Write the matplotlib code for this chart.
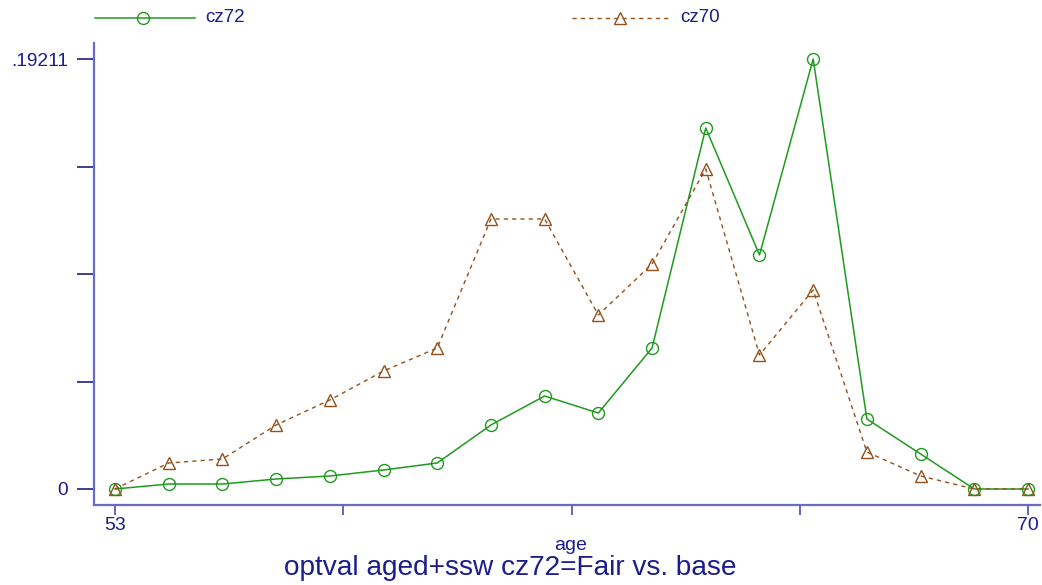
import matplotlib
matplotlib.use("Agg")
import matplotlib.pyplot as plt
from matplotlib.lines import Line2D

plt.rcParams['font.family'] = ['Liberation Sans', 'DejaVu Sans']

age = list(range(53, 71))
cz72 = [0.0, 0.00223, 0.00223, 0.00447, 0.00581, 0.00849, 0.01162, 0.02859, 0.04155,
        0.03395, 0.0630, 0.16128, 0.10454, 0.19211, 0.03127, 0.01564, 0.0, 0.0]
cz70 = [0.0, 0.01162, 0.0134, 0.0286, 0.03976, 0.05272, 0.0630, 0.12063, 0.12063,
        0.07774, 0.10052, 0.14297, 0.05987, 0.08891, 0.01653, 0.00581, 0.0, 0.0]
xticks = [53, 57.25, 61.5, 65.75, 70]
xticklabels = ['53', '', '', '', '70']
yticks = [0, 0.048, 0.096, 0.144, 0.19211]
yticklabels = ['0', '', '', '', '.19211']
title = 'optval aged+ssw cz72=Fair vs. base'

navy = '#1c1c8c'
spine_c = '#6a6ac8'
green = '#1f9a1f'
brown = '#94501a'

W, H = 1042, 585
fig = plt.figure(figsize=(W / 100, H / 100), dpi=100)
ax = fig.add_axes([94 / W, 80 / H, (1040 - 94) / W, (505 - 43) / H])

ax.plot(age, cz72, color=green, lw=1.1, marker='o', ms=8.6, mfc='none', mec=green, mew=1.0)
ax.plot(age, cz70, color=brown, lw=1.0, ls=(0, (3, 3)), marker='^', ms=9, mfc='none', mec=brown, mew=1.0)

ax.set_xlim(52.609, 70.2234)
ax.set_ylim(-0.00715, 0.19926)
ax.set_xticks(xticks)
ax.set_xticklabels(xticklabels)
ax.set_yticks(yticks)
ax.set_yticklabels(yticklabels)
ax.tick_params(axis='y', length=12, width=1.2, color=navy, labelcolor=navy, labelsize=13.8, pad=6.5)
ax.tick_params(axis='x', length=7.2, width=1.2, color='#4a4ab0', labelcolor=navy, labelsize=14, pad=1.5)
for s in ['top', 'right']:
    ax.spines[s].set_visible(False)
for s in ['left', 'bottom']:
    ax.spines[s].set_color(spine_c)
    ax.spines[s].set_linewidth(1.6)

fig.text(571 / W, 1 - 545 / H, 'age', ha='center', va='center', color=navy, fontsize=14)
fig.text(510 / W, 1 - 568 / H, title, ha='center', va='center', color=navy, fontsize=20.2)

# legend
ly = 1 - 18 / H
fig.add_artist(Line2D([95 / W, 195 / W], [ly, ly], color=green, lw=1.1, transform=fig.transFigure))
fig.add_artist(Line2D([143 / W], [ly], color=green, marker='o', ms=8.6, mfc='none', mew=1.0,
                      transform=fig.transFigure))
fig.text(205 / W, ly, 'cz72', ha='left', va='center', color=navy, fontsize=13.5)
fig.add_artist(Line2D([572 / W, 668 / W], [ly, ly], color=brown, lw=1.0, ls=(0, (3, 3)),
                      transform=fig.transFigure))
fig.add_artist(Line2D([620 / W], [ly], color=brown, marker='^', ms=9, mfc='none', mew=1.0,
                      transform=fig.transFigure))
fig.text(680 / W, ly, 'cz70', ha='left', va='center', color=navy, fontsize=13.5)

fig.savefig('out.png', dpi=100, facecolor='white')
